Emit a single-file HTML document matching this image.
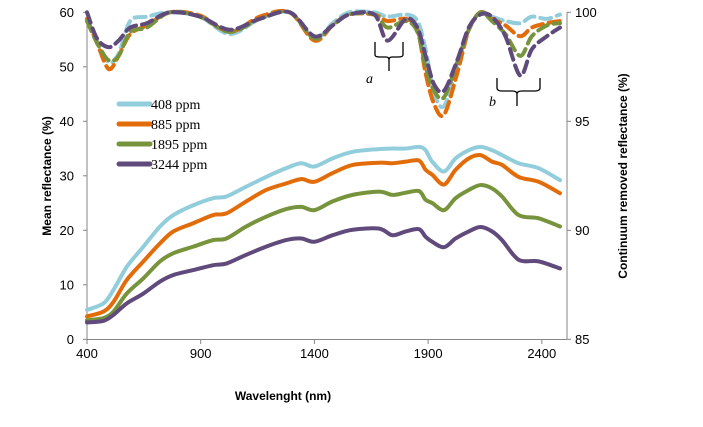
<!DOCTYPE html>
<html><head><meta charset="utf-8"><style>
body{margin:0;background:#fff;width:703px;height:422px;overflow:hidden}
svg text{font-family:"Liberation Sans",sans-serif}
</style></head><body>
<svg id="chart" width="703" height="422" xmlns="http://www.w3.org/2000/svg"></svg>
<script>
const wlSolid=[400,473,517,575,648,721,780,867,955,1013,1100,1188,1276,1342,1400,1480,1568,1685,1743,1802,1860,1889,1918,1970,2021,2079,2130,2181,2225,2298,2386,2480];
const meanBlue=[5.4,6.6,9.1,13.3,17,20.7,22.8,24.6,25.9,26.2,28,29.8,31.4,32.3,31.7,33.2,34.4,34.9,35.0,35.0,35.3,34.7,32.6,30.8,33.2,34.7,35.3,34.7,33.8,32.3,31.4,29.2];
const meanOrange=[4.2,5.1,6.9,10.9,14.3,17.6,19.8,21.3,22.8,23.1,25.3,27.4,28.6,29.4,28.9,30.5,32.0,32.4,32.3,32.6,32.8,31.1,30.2,28.4,31.1,33.2,33.8,32.6,32,29.8,28.9,26.8];
const meanGreen=[3.5,3.9,5.1,8.4,11.2,14.3,15.8,17,18.2,18.5,20.7,22.5,23.9,24.3,23.7,25.3,26.5,27.1,26.5,26.9,27.2,25.6,25,23.7,25.9,27.4,28.3,27.7,26.2,22.8,22.2,20.7];
const meanPurple=[3.1,3.4,4.5,6.6,8.4,10.6,11.8,12.7,13.6,13.9,15.5,17,18.2,18.5,17.9,19.1,20.1,20.3,19.1,19.8,20.2,18.8,17.9,16.9,18.5,19.8,20.6,19.8,18.2,14.6,14.3,13];
const wlDash=[400,444,495,539,590,663,765,897,1028,1160,1291,1400,1480,1553,1663,1721,1802,1853,1889,1926,1970,2028,2079,2130,2181,2240,2305,2356,2422,2480];
const crBlue=[99.6,98.7,97.7,98.1,99.6,99.8,100,99.8,99.0,99.7,100,98.8,99.5,100,100,99.8,99.9,99.6,98.3,96.3,95.7,97.5,99.2,100,99.8,99.6,99.5,99.8,99.7,99.9];
const crOrange=[99.7,98.6,97.4,98,99,99.4,100,99.85,99.1,99.8,100,98.7,99.4,99.9,99.9,99.6,99.7,99.2,97.2,95.8,95.3,97.2,99.2,100,99.7,99.4,98.9,99.3,99.5,99.6];
const crGreen=[99.6,98.6,97.8,98,99.1,99.3,100,99.8,99.1,99.7,100,98.8,99.4,99.9,99.9,99.3,99.6,99.1,97.5,96.4,96.1,97.7,99.2,100,99.6,99,98,98.9,99.4,99.5];
const crPurple=[100,98.8,98.4,98.7,99.3,99.5,100,99.8,99.2,99.7,100,98.9,99.4,99.9,99.9,98.7,99.7,99.3,98,96.7,96.4,97.8,99.3,99.9,99.8,98.9,97.1,98.3,98.9,99.3];
const xTicks=[400,900,1400,1900,2400];
const yTicks=[0,10,20,30,40,50,60];
const y2Ticks=[85,90,95,100];
const seriesNames=["408 ppm","885 ppm","1895 ppm","3244 ppm"];
const colors=["#92cddc","#e36c0a","#77933c","#604a7b"];

const svg=document.getElementById('chart');
const NS="http://www.w3.org/2000/svg";
const X=v=>87+(v-400)*0.2274;
const Y=v=>339.3-v*5.45;
const Y2=v=>339.3-(v-85)*21.8;
function el(tag,attrs,parent){const e=document.createElementNS(NS,tag);for(const k in attrs)e.setAttribute(k,attrs[k]);(parent||svg).appendChild(e);return e;}
function smooth(pts){let d=`M${pts[0][0]},${pts[0][1]}`;for(let i=0;i<pts.length-1;i++){const p0=pts[Math.max(0,i-1)],p1=pts[i],p2=pts[i+1],p3=pts[Math.min(pts.length-1,i+2)];const t=0.16;d+=` C${p1[0]+(p2[0]-p0[0])*t},${p1[1]+(p2[1]-p0[1])*t} ${p2[0]-(p3[0]-p1[0])*t},${p2[1]-(p3[1]-p1[1])*t} ${p2[0]},${p2[1]}`;}return d;}

// axes
const ax=el('g',{});


el('line',{x1:87,y1:12,x2:87,y2:339.5,stroke:'#868686','stroke-width':1},ax);
el('line',{x1:567,y1:12,x2:567,y2:339.5,stroke:'#868686','stroke-width':1},ax);
el('line',{x1:87,y1:339.5,x2:567,y2:339.5,stroke:'#868686','stroke-width':1},ax);
yTicks.forEach(v=>{el('line',{x1:83,y1:Y(v),x2:87,y2:Y(v),stroke:'#868686'},ax);
 const t=el('text',{x:74,y:Y(v)+4.5,'text-anchor':'end','font-size':13,fill:'#000'},ax);t.textContent=v;
 
 });
y2Ticks.forEach(v=>{el('line',{x1:567,y1:Y2(v),x2:571,y2:Y2(v),stroke:'#868686'},ax);
 const t=el('text',{x:575,y:Y2(v)+4.5,'font-size':13,fill:'#000'},ax);t.textContent=v;
 
 });
xTicks.forEach(v=>{el('line',{x1:X(v),y1:339.5,x2:X(v),y2:344,stroke:'#868686'},ax);
 const t=el('text',{x:X(v),y:358,'text-anchor':'middle','font-size':13,fill:'#000'},ax);t.textContent=v;
 
 });
let t=el('text',{x:0,y:0,transform:'translate(51,176) rotate(-90)','text-anchor':'middle','font-size':12,'font-weight':'bold'});t.textContent='Mean reflectance (%)';


t=el('text',{x:0,y:0,transform:'translate(627,176) rotate(-90)','text-anchor':'middle','font-size':12,'font-weight':'bold'});t.textContent='Continuum removed reflectance (%)';


t=el('text',{x:283,y:400,'text-anchor':'middle','font-size':12,'font-weight':'bold'});t.textContent='Wavelenght (nm)';



const means=[meanBlue,meanOrange,meanGreen,meanPurple];
const crs=[crBlue,crOrange,crGreen,crPurple];
crs.forEach((s,i)=>{const p=el('path',{d:smooth(s.map((v,j)=>[X(wlDash[j]),Y2(v)])),fill:'none',stroke:colors[i],'stroke-width':4,'stroke-dasharray':'11 6','stroke-linecap':'round'});
 
 });
means.forEach((s,i)=>{const p=el('path',{d:smooth(s.map((v,j)=>[X(wlSolid[j]),Y(v)])),fill:'none',stroke:colors[i],'stroke-width':4,'stroke-linejoin':'round','stroke-linecap':'round'});
 
 });

// legend
const lg=el('g',{});


seriesNames.forEach((n,i)=>{const yy=104+i*20;
 el('line',{x1:119,y1:yy,x2:150,y2:yy,stroke:colors[i],'stroke-width':5,'stroke-linecap':'round'},lg);
 const tt=el('text',{x:151,y:yy+5,'font-size':14,'font-family':'"Liberation Serif",serif'},lg);tt.textContent=n;
 tt.style.fontFamily='"Liberation Serif",serif';
 
 });

// annotations
const an=el('g',{fill:'none',stroke:'#000','stroke-width':1.3});


el('path',{d:'M375,42 V55 Q375,57 380,57 H386 Q389,57 389,60 V71 M389,60 Q389,57 392,57 H398 Q403,57 403,55 V42'},an);
el('path',{d:'M497,78 V88 Q497,91 502,91 H512 Q517,91 517,94 V106 M517,94 Q517,91 522,91 H535 Q540,91 540,88 V78'},an);
t=el('text',{x:366,y:83,'font-size':14,'font-style':'italic'});t.textContent='a';t.style.fontFamily='"Liberation Serif",serif';


t=el('text',{x:489,y:106,'font-size':14,'font-style':'italic'});t.textContent='b';t.style.fontFamily='"Liberation Serif",serif';


</script>
</body></html>
